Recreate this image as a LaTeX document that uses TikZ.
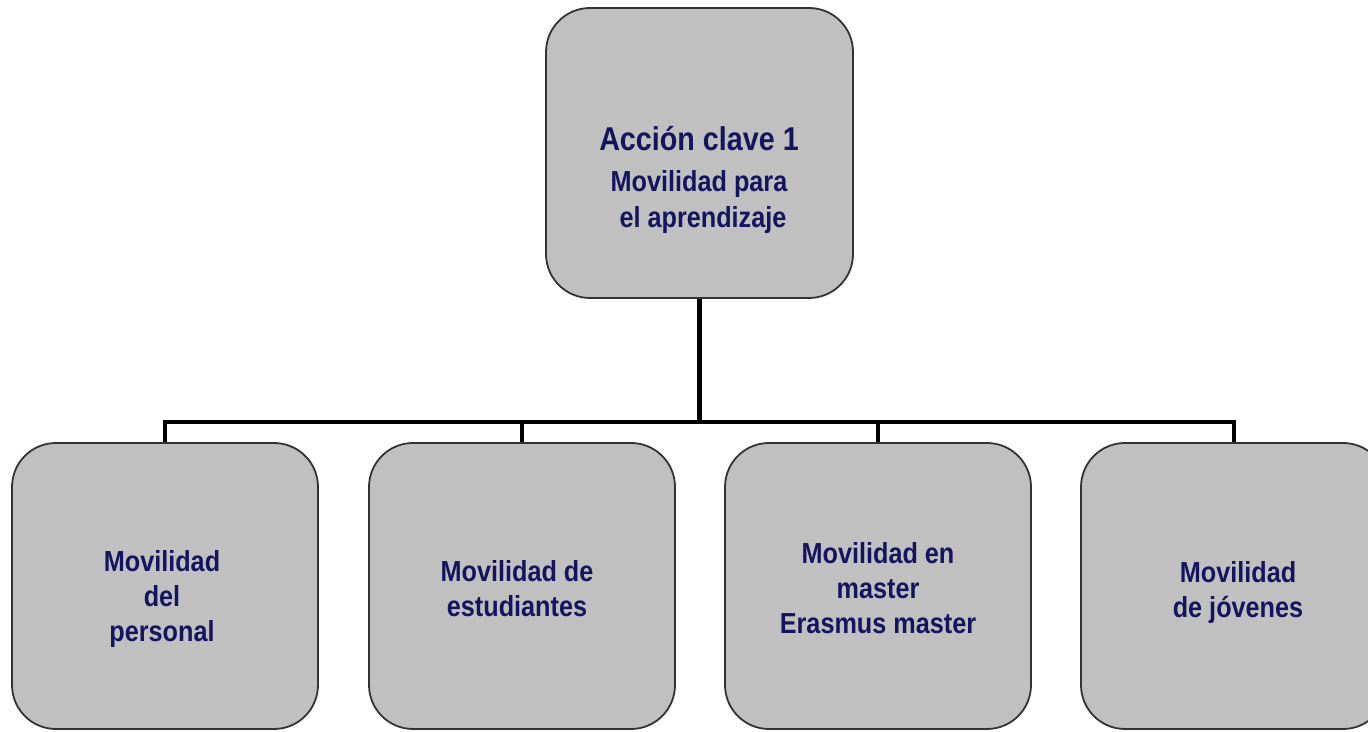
\documentclass[tikz,border=0pt]{standalone}
\usepackage{fontspec}
\newfontfamily\lab[FakeStretch=0.87]{Liberation Sans}
\definecolor{navy}{HTML}{15155F}
\definecolor{boxfill}{HTML}{C0C0C0}
\definecolor{boxline}{HTML}{333333}
\begin{document}
\begin{tikzpicture}[x=1pt,y=1pt,
  box/.style={draw=boxline,line width=1.8pt,fill=boxfill,rounded corners=44pt,inner sep=0pt},
  conn/.style={draw=black,line width=4.5pt},
  txt/.style={text=navy,font=\lab\bfseries\fontsize{29}{35}\selectfont,align=center,inner sep=0pt}]
\useasboundingbox (0,0) rectangle (1368,731);
\fill[white] (0,0) rectangle (1368,731);
% boxes
\node[box,minimum width=307pt,minimum height=290pt] (top) at (699.5,578) {};
\node[box,minimum width=306pt,minimum height=286pt] (b1) at (165,145) {};
\node[box,minimum width=306pt,minimum height=286pt] (b2) at (522,145) {};
\node[box,minimum width=306pt,minimum height=286pt] (b3) at (878,145) {};
\node[box,minimum width=306pt,minimum height=286pt] (b4) at (1234,145) {};
% connectors
\coordinate (bus) at (699.5,309);
\draw[conn] (top.south) -- (bus);
\draw[conn,line join=miter] (b1.north) |- (bus) -| (b4.north);
\draw[conn] (b2.north) -- (b2.north |- bus);
\draw[conn] (b3.north) -- (b3.north |- bus);
% texts
\node[txt] (ttop) at (699,551) {{\fontsize{33}{40}\selectfont Acción clave 1}\\[6pt]Movilidad para\\[1pt]\hspace*{8pt}el aprendizaje};
\node[txt] (t1) at (162,132) {Movilidad\\del\\personal};
\node[txt] (t2) at (517,142) {Movilidad de\\estudiantes};
\node[txt] (t3) at (878,143) {Movilidad en\\master\\Erasmus master};
\node[txt] (t4) at (1238,138) {Movilidad\\de jóvenes};
\end{tikzpicture}
\end{document}
